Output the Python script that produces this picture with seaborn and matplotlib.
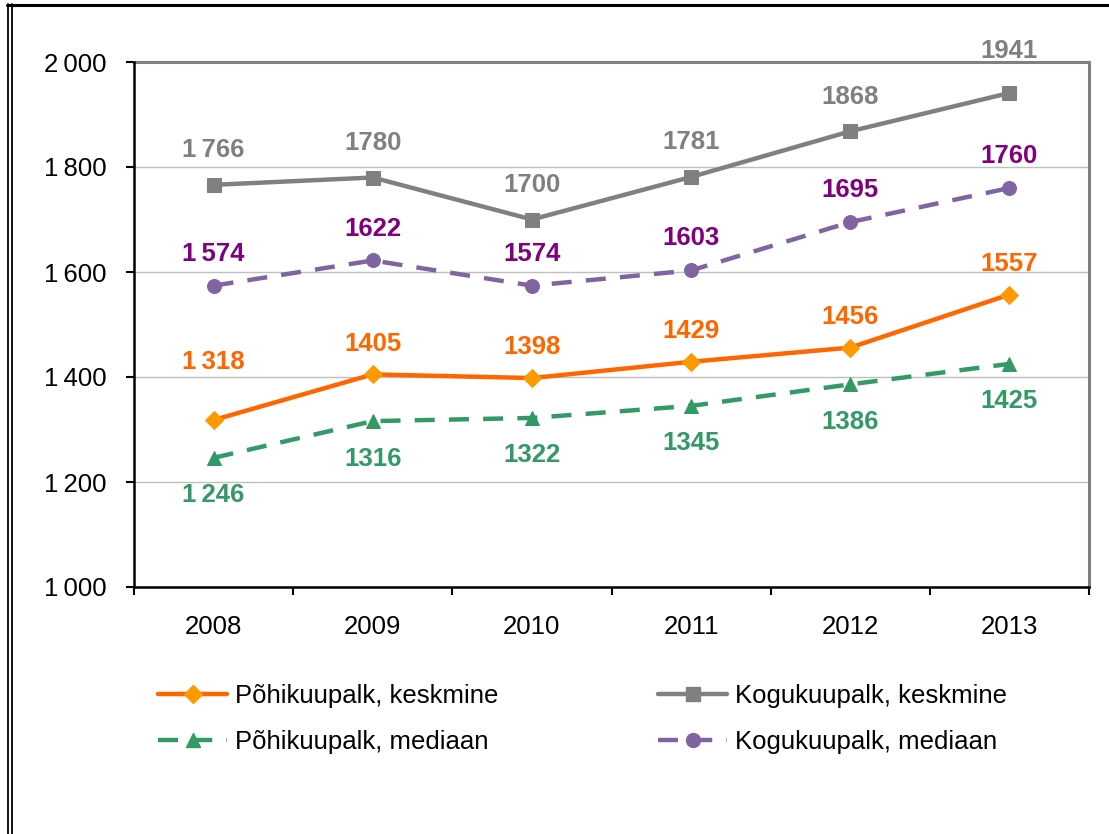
import matplotlib
matplotlib.use("Agg")
import matplotlib.pyplot as plt
from matplotlib.lines import Line2D
import seaborn as sns
import pandas as pd
import numpy as np

# ---- data ----
years = ["2008", "2009", "2010", "2011", "2012", "2013"]
pohi_keskmine = [1318, 1405, 1398, 1429, 1456, 1557]
pohi_mediaan = [1246, 1316, 1322, 1345, 1386, 1425]
kogu_keskmine = [1766, 1780, 1700, 1781, 1868, 1941]
kogu_mediaan = [1574, 1622, 1574, 1603, 1695, 1760]
pohi_keskmine_lbl = ["1\u2009318", "1405", "1398", "1429", "1456", "1557"]
pohi_mediaan_lbl = ["1\u2009246", "1316", "1322", "1345", "1386", "1425"]
kogu_keskmine_lbl = ["1\u2009766", "1780", "1700", "1781", "1868", "1941"]
kogu_mediaan_lbl = ["1\u2009574", "1622", "1574", "1603", "1695", "1760"]
series_names = ["Põhikuupalk, keskmine", "Põhikuupalk, mediaan",
                "Kogukuupalk, keskmine", "Kogukuupalk, mediaan"]
y_ticks = [1000, 1200, 1400, 1600, 1800, 2000]
y_tick_labels = ["1\u2009000", "1\u2009200", "1\u2009400", "1\u2009600", "1\u2009800", "2\u2009000"]

sns.set_theme(style="white")
plt.rcParams["font.family"] = ["Liberation Sans", "DejaVu Sans"]

FS = 18.5

fig = plt.figure(figsize=(11.09, 8.34), dpi=100)
ax = fig.add_axes([134/1109, 1 - 587/834, (1089-134)/1109, (587-62)/834])

x = np.arange(len(years))
df = pd.DataFrame({"x": np.tile(x, 4),
                   "value": pohi_keskmine + pohi_mediaan + kogu_keskmine + kogu_mediaan,
                   "series": np.repeat(series_names, len(years))})

styles = {
    series_names[0]: dict(color="#FF6600", marker="D", mfc="#FF9900", mec="#FF9900", ms=9, ls="-", lw=3.2,
                          lbl=pohi_keskmine_lbl, lc="#FF6600", off=22),
    series_names[1]: dict(color="#339966", marker="^", mfc="#339966", mec="#339966", ms=10, ls=(0, (4.5, 3.2)), lw=3.2,
                          lbl=pohi_mediaan_lbl, lc="#339966", off=-27),
    series_names[2]: dict(color="#808080", marker="s", mfc="#808080", mec="#808080", ms=10, ls="-", lw=3.2,
                          lbl=kogu_keskmine_lbl, lc="#808080", off=25),
    series_names[3]: dict(color="#8064A2", marker="o", mfc="#8064A2", mec="#8064A2", ms=10, ls=(0, (4.5, 3.2)), lw=3.2,
                          lbl=kogu_mediaan_lbl, lc="#800080", off=23),
}
extra_off = {(series_names[0], 0): 20, (series_names[2], 5): 5}

handles = {}
for name in series_names:
    st = styles[name]
    sub = df[df["series"] == name]
    sns.lineplot(data=sub, x="x", y="value", ax=ax, color=st["color"], lw=st["lw"],
                 linestyle=st["ls"], marker=st["marker"], markersize=st["ms"],
                 markerfacecolor=st["mfc"], markeredgecolor=st["mec"], legend=False,
                 zorder=3)
    for i, (xv, yv) in enumerate(zip(sub["x"], sub["value"])):
        off = st["off"] + extra_off.get((name, i), 0)
        ax.annotate(st["lbl"][i], (xv, yv), xytext=(0, off), textcoords="offset points",
                    ha="center", va="center", fontsize=FS, fontweight="bold", color=st["lc"],
                    annotation_clip=False, zorder=6)
    handles[name] = Line2D([], [], color=st["color"], lw=st["lw"], linestyle=st["ls"],
                           marker=st["marker"], markersize=st["ms"],
                           markerfacecolor=st["mfc"], markeredgecolor=st["mec"])

ax.set_xlim(-0.5, 5.5)
ax.set_ylim(1000, 2000)
ax.set_xlabel("")
ax.set_ylabel("")

ax.set_yticks(y_ticks)
ax.set_yticklabels(y_tick_labels)
ax.yaxis.grid(True, color="#BFBFBF", lw=1)
ax.set_axisbelow(True)

ax.set_xticks(np.arange(-0.5, 6, 1))
ax.set_xticklabels([])
ax.set_xticks(x, minor=True)
ax.set_xticklabels(years, minor=True)
ax.tick_params(axis="x", which="major", direction="out", length=6, width=1.5, color="black", bottom=True)
ax.tick_params(axis="x", which="minor", length=0, pad=20, labelsize=FS, labelcolor="black")
ax.tick_params(axis="y", direction="out", length=6, width=1.5, color="black", left=True, pad=14,
               labelsize=FS, labelcolor="black")

for s in ["left", "bottom"]:
    ax.spines[s].set_color("black")
    ax.spines[s].set_linewidth(1.8)
for s in ["top", "right"]:
    ax.spines[s].set_color("#808080")
    ax.spines[s].set_linewidth(2.2)
ax.spines["left"].set_zorder(4)

# legends
leg_kw = dict(frameon=False, fontsize=FS, handlelength=2.7, handletextpad=0.3,
              labelspacing=0.85, borderpad=0, borderaxespad=0, loc="upper left")
l1 = fig.legend([handles[series_names[0]], handles[series_names[1]]],
                [series_names[0], series_names[1]],
                bbox_to_anchor=(158/1109, 1 - 684/834), **leg_kw)
l2 = fig.legend([handles[series_names[2]], handles[series_names[3]]],
                [series_names[2], series_names[3]],
                bbox_to_anchor=(658/1109, 1 - 684/834), **leg_kw)
for leg in (l1, l2):
    for t in leg.get_texts():
        t.set_color("black")

# outer frame
fig.add_artist(Line2D([7/1109, 1], [1 - 4.5/834, 1 - 4.5/834], transform=fig.transFigure, color="black", lw=2.2))
fig.add_artist(Line2D([7.5/1109, 7.5/1109], [0, 1 - 4/834], transform=fig.transFigure, color="black", lw=1.3))
fig.add_artist(Line2D([11.5/1109, 11.5/1109], [0, 1 - 4/834], transform=fig.transFigure, color="black", lw=1.3))

fig.savefig("out.png", dpi=100)
